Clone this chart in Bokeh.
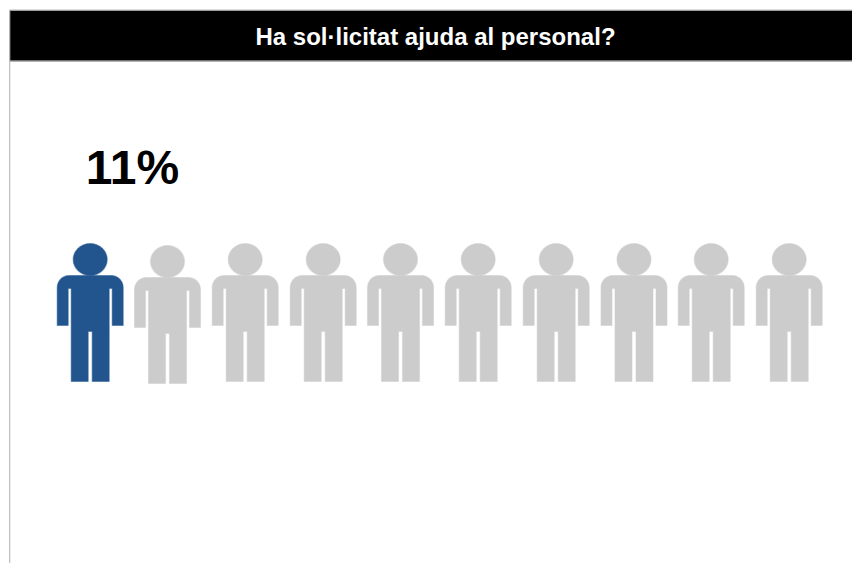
import numpy as np
from bokeh.embed import file_html
from bokeh.resources import INLINE
from bokeh.plotting import figure
from bokeh.models import ColumnDataSource, Range1d
from bokeh.core.properties import value

title = "Ha sol·licitat ajuda al personal?"
percent_label = "11%"
people = list(range(10))
highlighted = [1, 0, 0, 0, 0, 0, 0, 0, 0, 0]
BLUE, GREY = "#22558E", "#CCCCCC"
W, H = 852, 563

p = figure(width=W, height=H, output_backend="svg", toolbar_location=None,
           x_range=Range1d(0, W), y_range=Range1d(H, 0), min_border=0,
           x_axis_location=None, y_axis_location=None, outline_line_color=None)
p.grid.visible = False

# frame and header
p.quad(left=[9], right=[852], top=[10], bottom=[60], fill_color="black", line_color=None)
p.segment(x0=[9], y0=[9.5], x1=[852], y1=[9.5], line_color="#BBBBBB", line_width=1.2)
p.segment(x0=[9], y0=[60.5], x1=[852], y1=[60.5], line_color="#666666", line_width=1)
p.segment(x0=[9.2], y0=[10], x1=[9.2], y1=[563], line_color="#BBBBBB", line_width=1.2)
p.text(x=[435], y=[36], text=[title], text_color="white", text_font=value("Liberation Sans"),
       text_font_style="bold", text_font_size="24px", text_align="center", text_baseline="middle")
p.text(x=[132], y=[166.5], text=[percent_label], text_color="black", text_font=value("Liberation Sans"),
       text_font_style="bold", text_font_size="48px", text_align="center", text_baseline="middle")


def arc(cx, cy, r, a0, a1, n=8):
    t = np.radians(np.linspace(a0, a1, n))
    return list(cx + r * np.cos(t)), list(cy - r * np.sin(t))


def person_outline():
    """Body outline around x=0, y measured from the shoulder line."""
    lx, ly = arc(-21, 12, 12, 180, 90)
    rx, ry = arc(21, 12, 12, 90, 0)
    xs = lx + rx + [33, 22, 22, 19, 19, 2, 2, -2, -2, -19, -19, -22, -22, -33]
    ys = ly + ry + [50, 50, 13, 13, 106, 106, 56, 56, 106, 106, 13, 13, 50, 50]
    return np.array(xs, float), np.array(ys, float)


bx, by = person_outline()
centres = [89.7, 167, 244.7, 322.7, 400, 477.7, 555.7, 633.5, 710.7, 788.7]
drop = [0, 2, 0, 0, 0, 0, 0, 0, 0, 0]
colors = [BLUE if h else GREY for h in highlighted]
src = ColumnDataSource(dict(
    xs=[list(bx + centres[i]) for i in people],
    ys=[list(by + 275 + drop[i]) for i in people],
    hx=[centres[i] for i in people],
    hy=[259 + drop[i] for i in people],
    c=colors,
))
# soft halo imitating the blurred raster edge, then the solid figure
p.patches("xs", "ys", source=src, fill_color="c", line_color="c", line_width=1.2, line_alpha=0.45)
p.ellipse("hx", "hy", width=34, height=32, source=src, fill_color="c", line_color="c",
          line_width=1.2, line_alpha=0.45)

open("out.html", "w").write(file_html(p, INLINE))
